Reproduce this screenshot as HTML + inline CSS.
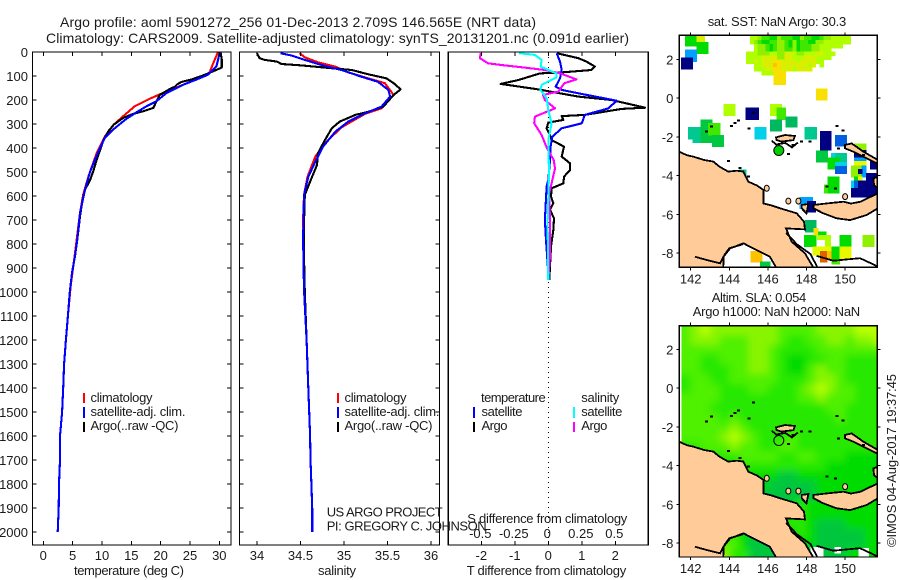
<!DOCTYPE html>
<html>
<head>
<meta charset="utf-8">
<title>Argo profile</title>
<style>
html,body{margin:0;padding:0;background:#fff;}
svg{display:block;}
text{font-family:"Liberation Sans",sans-serif;font-size:13px;fill:#1a1a1a;}
.t{font-size:14px;}
</style>
</head>
<body>
<svg id="root" xmlns="http://www.w3.org/2000/svg" width="900" height="580" viewBox="0 0 900 580">
<defs>
<clipPath id="clip-map-sst"><rect x="679.3" y="35.3" width="198" height="232"/></clipPath>
<clipPath id="clip-map-sla"><rect x="679.3" y="325.7" width="198" height="231.3"/></clipPath>
<clipPath id="clip-diff"><rect x="448.3" y="52" width="200" height="493"/></clipPath>
<filter id="sla-smooth" x="-5%" y="-5%" width="110%" height="110%"><feGaussianBlur stdDeviation="4"/></filter>
</defs>
<text class="t" x="60" y="27" textLength="476" lengthAdjust="spacing">Argo profile: aoml 5901272_256 01-Dec-2013 2.709S 146.565E (NRT data)</text>
<text class="t" x="46" y="43" textLength="583" lengthAdjust="spacing">Climatology: CARS2009. Satellite-adjusted climatology: synTS_20131201.nc (0.091d earlier)</text>

<g id="temp-panel"></g>
<g id="sal-panel"></g>
<g id="diff-panel"></g>
<g id="sst-map"></g>
<g id="sla-map"></g>

<rect x="83" y="393" width="2" height="10" fill="#ff0000"/>
<rect x="83" y="407" width="2" height="11" fill="#0000ff"/>
<rect x="83" y="422" width="2" height="10" fill="#000"/>
<text x="90.5" y="402" textLength="62">climatology</text>
<text x="90.5" y="416" textLength="95">satellite-adj. clim.</text>
<text x="90.5" y="430" textLength="88">Argo(..raw -QC)</text>

<rect x="337" y="393" width="2" height="10" fill="#ff0000"/>
<rect x="337" y="407" width="2" height="11" fill="#0000ff"/>
<rect x="337" y="422" width="2" height="10" fill="#000"/>
<text x="344.5" y="402" textLength="62">climatology</text>
<text x="344.5" y="416" textLength="95">satellite-adj. clim.</text>
<text x="344.5" y="430" textLength="88">Argo(..raw -QC)</text>
<text x="326.7" y="516.7" textLength="116">US ARGO PROJECT</text>
<text x="326.7" y="530.7" textLength="160">PI: GREGORY C. JOHNSON</text>

<text x="481" y="402" textLength="64.7">temperature</text>
<rect x="473" y="407" width="2" height="11" fill="#0000ff"/>
<rect x="473" y="422" width="2" height="10" fill="#000"/>
<text x="481.5" y="416" textLength="41">satellite</text>
<text x="481.5" y="430" textLength="26">Argo</text>
<text x="581.3" y="402" textLength="38">salinity</text>
<rect x="573" y="407" width="2" height="11" fill="#00ffff"/>
<rect x="573" y="422" width="2" height="10" fill="#ff00ff"/>
<text x="581.3" y="416" textLength="41">satellite</text>
<text x="581.3" y="430" textLength="26">Argo</text>

<text x="467.3" y="523" textLength="160">S difference from climatology</text>
<text x="74" y="575" textLength="110">temperature (deg C)</text>
<text x="318" y="575" textLength="38">salinity</text>
<text x="466.7" y="575" textLength="159.5">T difference from climatology</text>

<text x="707.7" y="26" textLength="138.5">sat. SST: NaN Argo: 30.3</text>
<text x="711.7" y="302" textLength="94.5">Altim. SLA: 0.054</text>
<text x="692.7" y="316" textLength="167.5">Argo h1000: NaN h2000: NaN</text>
<text transform="translate(896,547) rotate(-90)" x="0" y="0" textLength="173">©IMOS 04-Aug-2017 19:37:45</text>
</svg>

<script>
// ---------- profile data ----------
const depthTicks = [0,100,200,300,400,500,600,700,800,900,1000,1100,1200,1300,1400,1500,1600,1700,1800,1900,2000];
const tempTicks = [0,5,10,15,20,25,30];
const salTicks = [34,34.5,35,35.5,36];
const salTickLabels = ['34','34.5','35','35.5','36'];
const diffTTicks = [-2,-1,0,1,2];
const diffSTicks = [-0.5,-0.25,0,0.25,0.5];
const diffSTickLabels = ['-0.5','-0.25','0','0.25','0.5'];
const lonTicks = [142,144,146,148,150];
const latTicks = [2,0,-2,-4,-6,-8];

const climTempDepth = [0,45,88,108,131,164,194,226,268,303,352,421,518,594,671,838,977,1100,1200,1300,1400,1500,1600,1700,1800,1900,2000];
const climTempValues = [29.8,29,28.3,26.7,24.4,21,18.2,15.6,13.6,12,10.5,9.1,7.7,6.8,6.25,5.4,4.66,4.2,3.85,3.55,3.4,3.2,2.85,2.85,2.68,2.62,2.45];
const argoTempDepth = [0,30,65,80,100,115,125,135,145,155,180,233,247,258,275,303,330,365,407,449,497,532,574,615,685,782,851,920,1004,1100,1200,1300,1400,1500,1600,1700,1800,1900,2000];
const argoTempValues = [30.2,30.4,30.4,29,27,25.2,23.5,22.8,22.4,21.5,19.8,18.75,17,15.3,13.6,12,11.1,10.3,9.7,9.1,8.5,8,7.1,6.7,6.25,5.8,5.4,4.9,4.5,4.2,3.85,3.55,3.4,3.2,2.85,2.85,2.68,2.62,2.45];
const satTempDepth = [0,32,60,94,115,136,171,205,226,251,278,317,358,414,497,574,671,782,851,920,1004,1100,1200,1300,1400,1500,1600,1700,1800,1900,2000];
const satTempValues = [30.1,29.8,29.5,28.1,26.1,23.9,21,19.3,17.6,15.9,14.2,12.2,10.5,9.4,8,7.1,6.25,5.8,5.4,4.9,4.5,4.2,3.85,3.55,3.4,3.2,2.85,2.85,2.68,2.62,2.45];

const climSalDepth = [5,22,43,61,85,110,130,179,235,258,314,380,436,520,596,700,850,1000,1200,1400,1500,1600,1700,1800,1900,2000];
const climSalValues = [34.49,34.55,34.7,34.9,35.05,35.28,35.47,35.57,35.43,35.24,34.97,34.78,34.67,34.58,34.54,34.53,34.54,34.55,34.57,34.59,34.6,34.61,34.615,34.625,34.635,34.635];
const argoSalDepth = [5,26,33,40,50,56,65,75,93,110,135,156,179,228,249,262,290,318,367,422,471,540,596,714,853,1000,1200,1400,1500,1600,1700,1800,1900,2000];
const argoSalValues = [34,34.03,34.09,34.23,34.28,34.51,34.78,35.09,35.28,35.49,35.59,35.65,35.57,35.45,35.28,35.13,34.95,34.86,34.78,34.7,34.69,34.61,34.55,34.54,34.54,34.55,34.57,34.59,34.6,34.61,34.615,34.625,34.635,34.635];
const satSalDepth = [5,15,33,54,75,103,124,158,186,228,256,290,332,394,457,520,596,780,990,1200,1400,1500,1600,1700,1800,1900,2000];
const satSalValues = [34.27,34.4,34.55,34.74,34.97,35.2,35.39,35.51,35.53,35.43,35.24,35.05,34.9,34.76,34.67,34.59,34.54,34.53,34.54,34.57,34.59,34.6,34.61,34.615,34.625,34.635,34.635];

const argoDTDepth = [5,26,40,61,75,85,89,117,133,156,161,186,200,232,237,262,267,283,294,318,346,367,394,436,464,492,519,547,568,603,630,658,693,742,811,950];
const argoDTValues = [0.25,0.9,1.14,1.39,1.29,0.4,-0.25,-0.9,-1.42,-0.3,-0.1,0.9,1.89,2.89,2.19,1.09,0.4,0.45,0,-0.05,0.05,0.1,0.47,0.4,0.65,0.65,0.47,0.45,0.1,0.08,0.15,0.05,0.17,0.15,0.08,0.03];
const satDTDepth = [5,40,75,110,144,158,172,203,235,262,297,318,353,394,450,533,561,700,783,922,950];
const satDTValues = [0.25,0.35,0.4,0.35,0.22,0.4,0.9,2.04,1.79,1.09,1,0.4,0.12,0.07,0.05,0,-0.05,-0.1,-0.07,0,0.02];
const argoDSDepth = [5,26,47,54,64,75,89,114,130,165,179,200,235,269,297,346,401,450,485,547,590,686,853,950];
const argoDSValues = [-0.505,-0.51,-0.45,-0.35,-0.19,-0.025,0.09,0.21,0.12,0.075,-0.04,-0.025,0.05,-0.1,-0.105,-0.05,-0.01,0.04,0.05,0.025,0.005,0.012,0.012,0];
const satDSDepth = [5,12,33,61,89,106,137,158,193,242,297,367,505,714,950];
const satDSValues = [-0.22,-0.1,-0.05,-0.057,0.06,0.06,-0.05,-0.06,-0.012,0,0.025,0,0.005,-0.005,0];

// ---------- map data ----------
const slaColors = {'0':'#00b050','1':'#00c63c','2':'#00dc00','3':'#28e800','4':'#50f000','5':'#88f400','6':'#b8ff00'};
// SLA colour level per 0.5 degree cell, north to south, from 141.5E and 3.22N
const slaRows = [
'456555555544445555666',
'455544455543344554556',
'444444455433334444444',
'443344455432233443333',
'443334455432245443333',
'344334444433345543333',
'344433344333456544333',
'444433333333445444333',
'444333333333333443333',
'444434333333333343333',
'444445433333333333333',
'444456543334333333333',
'334445443344333333333',
'333333444433443332222',
'222233333333333222222',
'222222222211222222222',
'222222222111112222222',
'222222221111112222222',
'222222211112322222222',
'222222211123322222222',
'333222211123321112222',
'445333211112321111122',
'445544211111221111122',
'445553311111211112222'
];
const sstColors = {a:'#000080',b:'#0060e0',c:'#00a0ff',d:'#00d0e8',e:'#00c890',f:'#00b860',p:'#00c840',g:'#00dc00',h:'#40e800',i:'#90f000',j:'#b0ff00',k:'#d8f000',y:'#e8f800',l:'#f8e000',m:'#ffc000',n:'#e06000'};
// Dense SST patch north of 1N: 0.2 degree cells from 144.87E, 3.2N
const sstPatchRows = [
' jjihhggihhhggihhgghiijjjjj',
' jihgghhiihgighhggiijjjjjjj',
'  jiihghiihgighhhiijjjjjj  ',
'  jiihghiihhighhhiijjj     ',
'jjjiiijjiikkjiijjjkkjjj    ',
'jjjjkkkkiikkjjjkkkjjjj     ',
'jjkjkkkllkkkkjkkkkjj       ',
'  jjkkkmlkkkkkkkjk j       ',
'  jjjkkllkkkjkkkk          ',
'    jjjlll                 '
];
// Isolated SST swaths: west, east, north, south (degrees), colour level
const sstSwaths = [
[141.7,142.3,3.2,2.7,'g'],[142.3,142.7,3.2,2.9,'k'],[142.3,142.9,2.9,2.3,'g'],[141.7,142.3,2.5,1.9,'c'],[141.5,142.1,2.1,1.5,'a'],
[146.3,146.9,1.3,0.7,'l'],[146.3,146.9,1.7,1.3,'k'],[148.5,149.05,0.5,-0.1,'l'],[143.7,144.3,-0.3,-0.9,'j'],[144.85,145.5,-0.5,-1.1,'a'],
[146.1,146.7,-0.3,-0.9,'j'],[146.45,146.9,-0.5,-1.1,'h'],[146.1,146.7,-1.1,-1.7,'f'],[146.9,147.5,-0.95,-1.5,'f'],[145.3,145.9,-1.5,-2.1,'d'],
[147.9,148.5,-1.5,-2.1,'e'],[148.7,149.27,-1.7,-2.68,'a'],[149.48,150.08,-1.9,-2.48,'b'],
[141.85,142.5,-1.5,-2.1,'e'],[142.1,143.1,-2.1,-2.3,'e'],[142.5,143.1,-1.1,-2.3,'p'],[142.9,143.5,-1.3,-1.9,'h'],[143.1,143.7,-1.9,-2.5,'p'],
[144.5,144.85,-3.7,-4.05,'e'],
[148.5,149.08,-2.7,-3.3,'p'],[149.27,150.08,-2.85,-3.29,'e'],[149.27,149.48,-2.85,-3.06,'d'],[149.08,149.48,-3.06,-3.67,'g'],[149.48,149.7,-3.06,-3.67,'g'],[149.48,150.08,-3.29,-3.5,'d'],[149.48,150.08,-3.5,-3.89,'b'],
[150.46,151.07,-2.34,-2.68,'i'],[150.46,151.07,-2.68,-3.06,'a'],[150.46,151.07,-3.06,-3.26,'c'],[150.46,151.07,-3.26,-3.47,'y'],
[150.3,150.86,-3.47,-4.06,'i'],[150.86,151.07,-3.47,-4.06,'c'],[150.67,150.86,-3.67,-3.88,'a'],[150.46,150.67,-4.06,-4.27,'g'],[150.67,150.86,-4.06,-4.27,'y'],
[150.3,150.46,-4.27,-4.65,'d'],[150.46,150.67,-4.27,-4.65,'b'],[150.67,151.07,-4.27,-4.65,'a'],[150.3,151.07,-4.65,-5.1,'a'],
[151.3,151.67,-3.25,-3.66,'a'],[151.07,151.67,-3.88,-5.1,'a'],
[149.08,149.68,-4.06,-4.89,'g'],[148.9,149.08,-4.47,-4.89,'h'],
[147.65,148.3,-5.1,-5.7,'c'],[148.03,148.45,-5.32,-5.87,'a'],
[147.92,148.48,-6.3,-6.9,'f'],[147.87,148.48,-7.07,-7.67,'g'],[148.35,148.6,-6.7,-7.07,'l'],[148.6,149.0,-6.9,-7.07,'g'],[148.55,149.25,-7.07,-7.3,'j'],[148.95,149.25,-7.3,-7.7,'j'],
[148.3,148.95,-7.67,-8.1,'y'],[148.95,149.35,-7.67,-8.1,'y'],[148.7,149.05,-7.9,-8.45,'n'],[149.05,149.3,-7.9,-8.3,'m'],[149.3,149.7,-7.67,-8.3,'g'],[149.3,149.7,-8.3,-8.55,'h'],
[149.7,150.3,-7.07,-7.67,'g'],[149.7,150.3,-7.67,-8.27,'y'],[150.9,151.5,-7.07,-7.67,'i'],
[145.1,145.7,-7.9,-8.45,'m'],[145.6,146.1,-8.45,-8.73,'p']
];

// Coastline vertices in degrees
const mainlandLon = [141.41,141.8,142.14,142.7,143.17,143.5,143.95,144.4,144.73,144.99,145.4,145.77,145.77,146.2,146.63,147.49,147.87,147.92,146.94,147.23,147.92,148.39,146.46,146.1,145.25,144.73,144.04,143.7,143.69,141.41];
const mainlandLat = [-2.77,-2.95,-3.03,-3.2,-3.28,-3.55,-3.8,-3.75,-3.8,-4.32,-4.5,-4.75,-5.44,-5.55,-5.69,-5.95,-6.38,-6.78,-6.73,-7.41,-8.02,-8.8,-8.8,-8.19,-7.76,-7.5,-7.76,-8.19,-8.8,-8.8];
const newBritainLon = [148.36,149.06,149.92,150.3,150.8,151.7,151.7,151.12,150.26,149.56,148.87,148.36];
const newBritainLat = [-5.52,-5.44,-5.35,-5.45,-5.35,-4.92,-5.69,-6.04,-6.3,-6.21,-5.95,-5.69];
const umboiLon = [147.75,148.1,148,147.75];
const umboiLat = [-5.52,-5.47,-5.95,-5.7];
const manusLon = [146.42,146.89,147.4,147.32,146.71,146.45];
const manusLat = [-2.03,-1.91,-1.96,-2.17,-2.25,-2.17];
const reefLon = [146.2,146.42,146.9,147.25,147.55];
const reefLat = [-2.2,-2.4,-2.32,-2.55,-2.3];
const newIrelandLon = [150,150.34,150.95,151.7,151.7,150.95,150.43,150];
const newIrelandLat = [-2.42,-2.34,-2.77,-3.2,-3.4,-3.03,-2.77,-2.6];
const tipLon = [151.46,151.7,151.7,151.5];
const tipLat = [-4.15,-4.06,-4.66,-4.5];
const isletLon = [143.09,142.83,144.12,144.3,144.47,145.02,145.25,147.75,147.3,148.18,149.65,143.95,144.55,144.99,147.06,149.05,149.5,149.57,149.9,150.95];
const isletLat = [-1.48,-1.73,-1.44,-1.3,-1.17,-1.56,-0.75,-2.25,-2.42,-2.25,-2.6,-3.25,-3.6,-4.06,-2.9,-4.57,-4.66,-1.44,-1.68,-2.95];
const tanIsleLon = [145.94,147.06,147.58,150];
const tanIsleLat = [-4.66,-5.32,-5.32,-5.09];
const papuaTailLon = [148.53,149.39,150.77,151.64];
const papuaTailLat = [-8.15,-8.4,-8.27,-8.67];
const southCoastLon = [146.94,147.5,148.2,148.55];
const southCoastLat = [-6.95,-7.55,-8.05,-8.7];
const gulfIsleLon = [142.22,142.83,143.52,143.75,144.0,144.7];
const gulfIsleLat = [-8.19,-8.36,-8.53,-8.1,-7.75,-7.55];
const floatLon = 146.565;
const floatLat = -2.709;

// ---------- axis functions ----------
const NS = 'http://www.w3.org/2000/svg';
const yD = d => 52 + 0.24 * d;
const xT = t => 43.3 + 5.867 * t;
const xS = s => 257 + 87 * (s - 34);
const xDT = t => 548.3 + 33.5 * t;
const xDS = s => 548.3 + 134 * s;

function mk(tag, parent, attrs) {
  const el = document.createElementNS(NS, tag);
  for (const k in attrs) el.setAttribute(k, attrs[k]);
  parent.appendChild(el);
  return el;
}
function profile(parent, name, depths, values, xf, color) {
  const pts = depths.map((d, i) => xf(values[i]).toFixed(1) + ',' + yD(d).toFixed(1)).join(' ');
  const el = mk('polyline', parent, {points: pts, fill: 'none', stroke: color, 'stroke-width': 2.1, 'shape-rendering': 'crispEdges', 'stroke-linejoin': 'round'});
  
  
  return el;
}
function label(parent, name, x, y, str, anchor) {
  const el = mk('text', parent, {x: x, y: y, 'text-anchor': anchor || 'middle'});
  el.textContent = str;
  
  
  return el;
}
function tick(parent, name, x1, y1, x2, y2) {
  const el = mk('line', parent, {x1: x1, y1: y1, x2: x2, y2: y2, stroke: '#000', 'stroke-width': 1, 'shape-rendering': 'crispEdges'});
  
  
}
function frame(parent, name, x, y, w, h) {
  const el = mk('rect', parent, {x: x, y: y, width: w, height: h, fill: 'none', stroke: '#000', 'stroke-width': 1.3, 'shape-rendering': 'crispEdges'});
  
  
}
function depthAxis(parent, L, R, withLabels) {
  depthTicks.forEach(d => {
    tick(parent, 'depth-tick', L, yD(d), L + 4, yD(d));
    tick(parent, 'depth-tick', R - 4, yD(d), R, yD(d));
    if (withLabels) label(parent, 'depth-tick-label', 28, yD(d) + 5, String(d), 'end');
  });
}

// ---------- temperature panel ----------
const tp = document.getElementById('temp-panel');
profile(tp, 'climatology-temperature-line', climTempDepth, climTempValues, xT, '#ff0000');
profile(tp, 'argo-temperature-line', argoTempDepth, argoTempValues, xT, '#000000');
profile(tp, 'satellite-temperature-line', satTempDepth, satTempValues, xT, '#0000ff');
frame(tp, 'temperature-panel-frame', 32.5, 52, 198.5, 493);
depthAxis(tp, 32.5, 231, true);
tempTicks.forEach(t => {
  tick(tp, 'temperature-tick', xT(t), 52, xT(t), 56);
  tick(tp, 'temperature-tick', xT(t), 541, xT(t), 545);
  label(tp, 'temperature-tick-label', xT(t), 560, String(t));
});

// ---------- salinity panel ----------
const sp = document.getElementById('sal-panel');
profile(sp, 'climatology-salinity-line', climSalDepth, climSalValues, xS, '#ff0000');
profile(sp, 'argo-salinity-line', argoSalDepth, argoSalValues, xS, '#000000');
profile(sp, 'satellite-salinity-line', satSalDepth, satSalValues, xS, '#0000ff');
frame(sp, 'salinity-panel-frame', 239.5, 52, 200, 493);
depthAxis(sp, 239.5, 439.5, false);
salTicks.forEach((s, i) => {
  tick(sp, 'salinity-tick', xS(s), 52, xS(s), 56);
  tick(sp, 'salinity-tick', xS(s), 541, xS(s), 545);
  label(sp, 'salinity-tick-label', xS(s), 560, salTickLabels[i]);
});

// ---------- difference panel ----------
const dp = document.getElementById('diff-panel');
const zero = mk('line', dp, {x1: xDT(0), y1: 52, x2: xDT(0), y2: 545, stroke: '#000', 'stroke-width': 1, 'stroke-dasharray': '1 4', 'shape-rendering': 'crispEdges'});


const dg = mk('g', dp, {'clip-path': 'url(#clip-diff)'});


profile(dg, 'argo-temperature-difference-line', argoDTDepth, argoDTValues, xDT, '#000000');
profile(dg, 'satellite-temperature-difference-line', satDTDepth, satDTValues, xDT, '#0000ff');
profile(dg, 'argo-salinity-difference-line', argoDSDepth, argoDSValues, xDS, '#ff00ff');
profile(dg, 'satellite-salinity-difference-line', satDSDepth, satDSValues, xDS, '#00ffff');
frame(dp, 'difference-panel-frame', 448.3, 52, 200, 493);
diffTTicks.forEach(t => {
  tick(dp, 'temperature-difference-tick', xDT(t), 541, xDT(t), 545);
  label(dp, 'temperature-difference-tick-label', xDT(t), 560, String(t));
});
diffSTicks.forEach((s, i) => {
  tick(dp, 'salinity-difference-tick', xDS(s), 52, xDS(s), 56);
  label(dp, 'salinity-difference-tick-label', xDS(s) - 1, 538, diffSTickLabels[i]);
});

// ---------- maps ----------
const xLon = lon => 690.7 + 19.3 * (lon - 142);
const ySST = lat => 59.3 + 19.37 * (2 - lat);
const ySLA = lat => 349.3 + 19.37 * (2 - lat);

function cell(parent, name, west, east, north, south, yf, color) {
  const el = mk('rect', parent, {x: xLon(west), y: yf(north), width: xLon(east) - xLon(west) + 0.6, height: yf(south) - yf(north) + 0.6, fill: color, 'shape-rendering': 'crispEdges'});
  
  
}
function poly(parent, name, lons, lats, yf, closed, fill) {
  const pts = lons.map((lon, i) => xLon(lon).toFixed(1) + ',' + yf(lats[i]).toFixed(1)).join(' ');
  const el = mk(closed ? 'polygon' : 'polyline', parent, {points: pts, fill: closed ? fill : 'none', stroke: '#000', 'stroke-width': 1.8, 'shape-rendering': 'crispEdges'});
  
  
}
function drawCoast(g, yf) {
  const land = '#ffcc99';
  poly(g, 'new-guinea-land', mainlandLon, mainlandLat, yf, true, land);
  poly(g, 'new-britain-land', newBritainLon, newBritainLat, yf, true, land);
  poly(g, 'umboi-land', umboiLon, umboiLat, yf, true, land);
  poly(g, 'manus-land', manusLon, manusLat, yf, true, land);
  poly(g, 'manus-reef-line', reefLon, reefLat, yf, false);
  poly(g, 'new-ireland-land', newIrelandLon, newIrelandLat, yf, true, land);
  poly(g, 'new-ireland-tip-land', tipLon, tipLat, yf, true, land);
  poly(g, 'papua-tail-coast', papuaTailLon, papuaTailLat, yf, false);
  poly(g, 'south-coast-line', southCoastLon, southCoastLat, yf, false);
  poly(g, 'gulf-coast-islands', gulfIsleLon, gulfIsleLat, yf, false);
  isletLon.forEach((lon, i) => {
    const el = mk('rect', g, {x: xLon(lon) - 1.5, y: yf(isletLat[i]) - 1, width: 3, height: 2, fill: '#000', 'shape-rendering': 'crispEdges'});
    
    
  });
  tanIsleLon.forEach((lon, i) => {
    const el = mk('ellipse', g, {cx: xLon(lon), cy: yf(tanIsleLat[i]), rx: 2.5, ry: 3, fill: land, stroke: '#000', 'stroke-width': 1});
    
    
  });
}
function mapAxes(parent, prefix, top, bottom, yf, labelY) {
  const L = 679.3, R = 877.3;
  frame(parent, prefix + '-frame', L, top, R - L, bottom - top);
  lonTicks.forEach(lon => {
    tick(parent, prefix + '-longitude-tick', xLon(lon), top - 3, xLon(lon), top);
    tick(parent, prefix + '-longitude-tick', xLon(lon), bottom, xLon(lon), bottom + 3);
    label(parent, prefix + '-longitude-label', xLon(lon), labelY, String(lon));
  });
  latTicks.forEach(lat => {
    tick(parent, prefix + '-latitude-tick', L - 3, yf(lat), L, yf(lat));
    tick(parent, prefix + '-latitude-tick', R, yf(lat), R + 3, yf(lat));
    label(parent, prefix + '-latitude-label', 673.3, yf(lat) + 5, String(lat), 'end');
  });
}

// SST map
const sm = document.getElementById('sst-map');
const smc = mk('g', sm, {'clip-path': 'url(#clip-map-sst)'});


sstSwaths.forEach(s => {
  cell(smc, 'sst-swath-cell', s[0], s[1], s[2], s[3], ySST, sstColors[s[4]]);
});
sstPatchRows.forEach((row, r) => {
  [...row].forEach((c, k) => {
    if (c === ' ') return;
    cell(smc, 'sst-cell', 144.87 + 0.2 * k, 145.07 + 0.2 * k, 3.2 - 0.2 * r, 3.0 - 0.2 * r, ySST, sstColors[c]);
  });
});
drawCoast(smc, ySST);
const fl1 = mk('circle', smc, {cx: xLon(floatLon), cy: ySST(floatLat), r: 5, fill: '#00d000', stroke: '#000', 'stroke-width': 1});


mapAxes(sm, 'sst-map', 35.3, 267.3, ySST, 283.5);

// SLA map
const lm = document.getElementById('sla-map');
const lmc = mk('g', lm, {'clip-path': 'url(#clip-map-sla)'});


const heat = mk('g', lmc, {filter: 'url(#sla-smooth)'});


slaRows.forEach((row, r) => {
  [...row].forEach((c, k) => {
    const west = k === 0 ? 141 : 141.5 + 0.5 * k;
    const east = k === row.length - 1 ? 153 : 142 + 0.5 * k;
    const north = r === 0 ? 4.5 : 3.22 - 0.5 * r;
    const south = r === slaRows.length - 1 ? -10 : 2.72 - 0.5 * r;
    cell(heat, 'sla-cell', west, east, north, south, ySLA, slaColors[c]);
  });
});
cell(lmc, 'sla-left-no-data-strip', 141.3, 141.5, 3.3, -3, ySLA, '#ffffff');
cell(lmc, 'sla-no-data-patch', 148.2, 148.85, -8.2, -8.8, ySLA, '#ffffff');
cell(lmc, 'sla-no-data-patch', 149.45, 149.75, -8.2, -8.5, ySLA, '#ffffff');
cell(lmc, 'sla-no-data-patch', 150.7, 151.2, -8.25, -8.8, ySLA, '#ffffff');
drawCoast(lmc, ySLA);
const fl2 = mk('circle', lmc, {cx: xLon(floatLon), cy: ySLA(floatLat), r: 5, fill: 'none', stroke: '#000', 'stroke-width': 1});


mapAxes(lm, 'sla-map', 325.7, 557, ySLA, 573);
</script>
</body>
</html>
